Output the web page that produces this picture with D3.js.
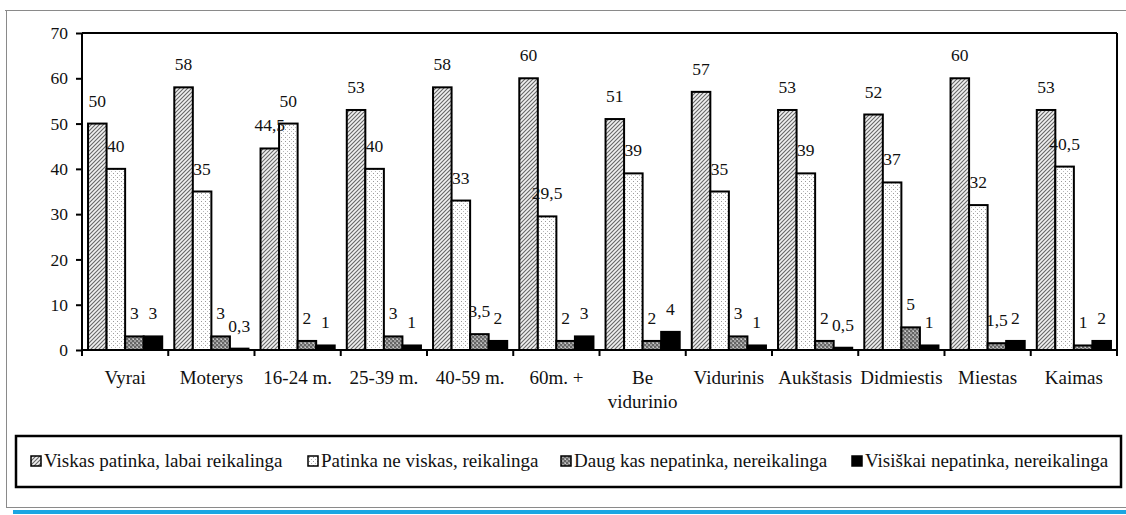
<!DOCTYPE html>
<html><head><meta charset="utf-8">
<script src="https://cdn.jsdelivr.net/npm/d3@7"></script>
<style>body{margin:0;background:#fff}svg{display:block}svg text{font-family:"Liberation Serif","Times New Roman",Times,"DejaVu Serif",serif;}</style>
</head><body>
<script>
const categories = ["Vyrai","Moterys","16-24 m.","25-39 m.","40-59 m.","60m. +","Be vidurinio","Vidurinis","Aukštasis","Didmiestis","Miestas","Kaimas"];
const seriesNames = ["Viskas patinka, labai reikalinga","Patinka ne viskas, reikalinga","Daug kas nepatinka, nereikalinga","Visiškai nepatinka, nereikalinga"];
const s1 = [50,58,44.5,53,58,60,51,57,53,52,60,53];
const s2 = [40,35,50,40,33,29.5,39,35,39,37,32,40.5];
const s3 = [3,3,2,3,3.5,2,2,3,2,5,1.5,1];
const s4 = [3,0.3,1,1,2,3,4,1,0.5,1,2,2];
const yTicks = [0,10,20,30,40,50,60,70];
const series = [s1,s2,s3,s4];

(function(){
const W=1126,H=515;
const svg=d3.select("body").append("svg").attr("width",W).attr("height",H);
const fs=17.5, fsT=19;
const defs=svg.append("defs");
const p1=defs.append("pattern").attr("id","p1").attr("patternUnits","userSpaceOnUse").attr("width",4).attr("height",4);
p1.append("rect").attr("width",4).attr("height",4).attr("fill","#f0f0f0");
p1.append("path").attr("d","M-1,1 l2,-2 M0,4 l4,-4 M3,5 l2,-2").attr("stroke","#666").attr("stroke-width",1.1);
const p2=defs.append("pattern").attr("id","p2").attr("patternUnits","userSpaceOnUse").attr("width",4).attr("height",4);
p2.append("rect").attr("width",4).attr("height",4).attr("fill","#fff");
p2.append("rect").attr("x",1).attr("y",1).attr("width",1).attr("height",1).attr("fill","#999");
p2.append("rect").attr("x",3).attr("y",3).attr("width",1).attr("height",1).attr("fill","#bbb");
const p3=defs.append("pattern").attr("id","p3").attr("patternUnits","userSpaceOnUse").attr("width",4).attr("height",4);
p3.append("rect").attr("width",4).attr("height",4).attr("fill","#a0a0a0");
p3.append("rect").attr("x",0).attr("y",0).attr("width",2).attr("height",2).attr("fill","#666");
p3.append("rect").attr("x",2).attr("y",2).attr("width",2).attr("height",2).attr("fill","#666");
p3.append("rect").attr("x",1).attr("y",3).attr("width",1).attr("height",1).attr("fill","#d0d0d0");
const fills=["url(#p1)","url(#p2)","url(#p3)","#000"];

svg.append("line").attr("x1",5).attr("x2",W).attr("y1",10.5).attr("y2",10.5).attr("stroke","#8a8a8a");
svg.append("line").attr("x1",6.5).attr("x2",6.5).attr("y1",10).attr("y2",508).attr("stroke","#8a8a8a");
svg.append("line").attr("x1",6).attr("x2",W).attr("y1",507.5).attr("y2",507.5).attr("stroke","#8a8a8a");
svg.append("rect").attr("x",13).attr("y",510).attr("width",W-13).attr("height",4).attr("fill","#1ba6e2");

const pL=82,pR=1117,pT=33,pB=350;
const x=d3.scaleBand().domain(categories).range([pL,pR]).paddingInner(0.14).paddingOuter(0.07);
const xs=d3.scaleBand().domain(d3.range(4)).range([0,x.bandwidth()]);
const y=d3.scaleLinear().domain([0,70]).range([pB,pT]);
const fmt=v=>String(v).replace(".",",");

const g=svg.append("g");
categories.forEach((c,i)=>{
  series.forEach((s,k)=>{
    const bx=x(c)+xs(k), by=y(s[i]);
    g.append("rect").attr("x",bx).attr("y",by).attr("width",xs.bandwidth()).attr("height",y(0)-by)
      .attr("fill",fills[k]).attr("stroke","#000").attr("stroke-width",2);
  });
});
categories.forEach((c,i)=>{
  series.forEach((s,k)=>{
    const bx=x(c)+xs(k), by=y(s[i]);
    g.append("text").attr("x",bx+xs.bandwidth()/2).attr("y",by-17).attr("text-anchor","middle")
      .attr("font-size",fs).attr("fill","#111").text(fmt(s[i]));
  });
});

svg.append("line").attr("x1",pL).attr("x2",pR).attr("y1",pT).attr("y2",pT).attr("stroke","#000").attr("stroke-width",2);
svg.append("line").attr("x1",pR).attr("x2",pR).attr("y1",pT).attr("y2",pB).attr("stroke","#000").attr("stroke-width",2);

const ya=svg.append("g").attr("transform",`translate(${pL},0)`).call(d3.axisLeft(y).tickValues(yTicks).tickSize(6).tickPadding(8));
ya.attr("font-family",null).attr("font-size",null);
ya.select(".domain").attr("stroke","#000").attr("stroke-width",2).attr("d",`M0,${pT}V${pB}`);
ya.selectAll(".tick line").attr("stroke","#000").attr("stroke-width",2);
ya.selectAll("text").attr("font-size",fs).attr("fill","#111");

const xa=svg.append("g").attr("transform",`translate(0,${pB})`);
xa.append("line").attr("x1",pL).attr("x2",pR).attr("stroke","#000").attr("stroke-width",2);
const bounds=categories.map(c=>x(c)-x.step()*x.paddingInner()/2).concat([pR]);
bounds[0]=pL;
xa.selectAll(".tk").data(bounds).enter().append("line").attr("x1",d=>d).attr("x2",d=>d).attr("y1",0).attr("y2",6).attr("stroke","#000").attr("stroke-width",2);
categories.forEach(c=>{
  const cx=x(c)+x.bandwidth()/2;
  const t=xa.append("text").attr("x",cx).attr("y",34).attr("text-anchor","middle").attr("font-size",fsT).attr("fill","#111");
  const parts=c==="Be vidurinio"?["Be","vidurinio"]:[c];
  parts.forEach((p,j)=>t.append("tspan").attr("x",cx).attr("dy",j?24:0).text(p));
});

svg.append("rect").attr("x",16).attr("y",436).attr("width",1105).attr("height",51).attr("fill","#fff").attr("stroke","#000").attr("stroke-width",2.5);
const lx=[31,308,561,852];
seriesNames.forEach((n,k)=>{
  svg.append("rect").attr("x",lx[k]).attr("y",456).attr("width",10).attr("height",10).attr("fill",fills[k]).attr("stroke","#000").attr("stroke-width",1.5);
  svg.append("text").attr("x",lx[k]+13).attr("y",467).attr("font-size",fsT).attr("fill","#111").text(n);
});
})();
</script>
</body></html>
